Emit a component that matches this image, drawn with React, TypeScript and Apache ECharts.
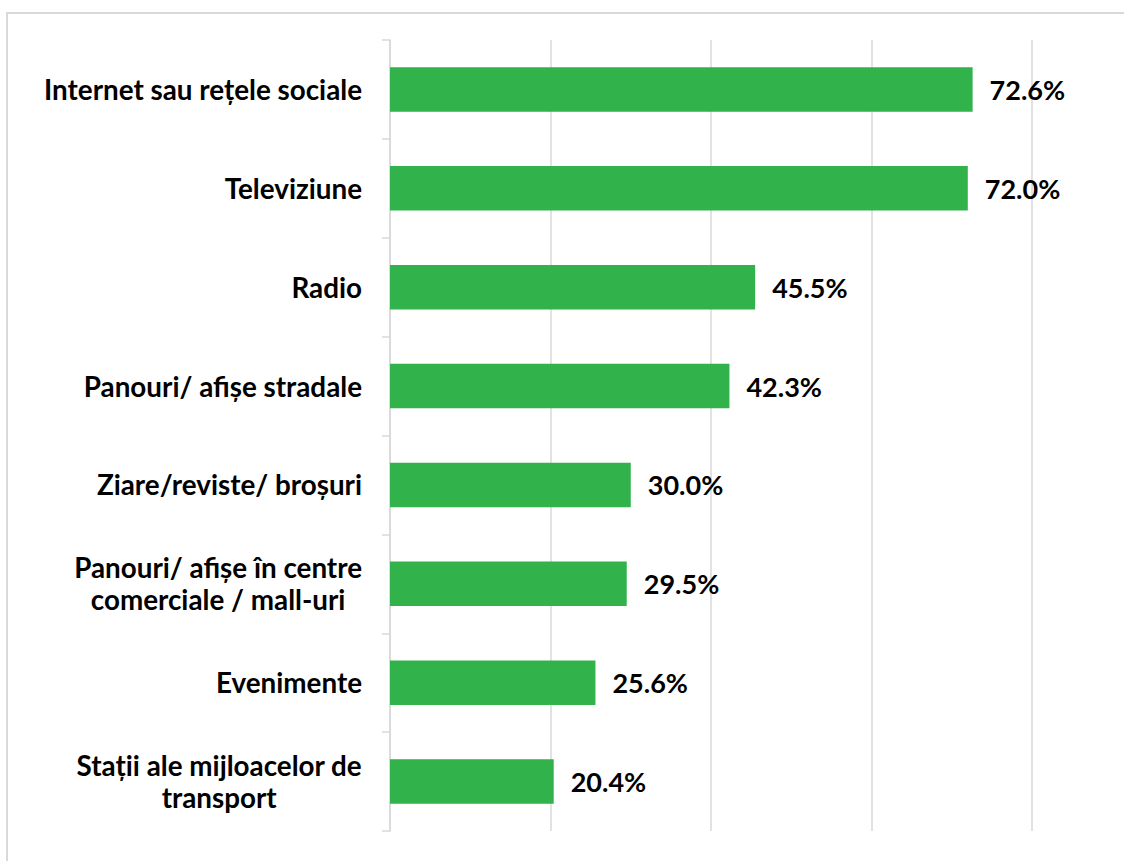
import React, { useEffect, useRef } from "react";
import * as echarts from "echarts";

const categories = [
  "Internet sau rețele sociale",
  "Televiziune",
  "Radio",
  "Panouri/ afișe stradale",
  "Ziare/reviste/ broșuri",
  "Panouri/ afișe în centre\ncomerciale / mall-uri",
  "Evenimente",
  "Stații ale mijloacelor de\ntransport",
];
const values = [72.6, 72.0, 45.5, 42.3, 30.0, 29.5, 25.6, 20.4];

const FONT = "Lato";

export default function App() {
  const ref = useRef<HTMLDivElement>(null);
  useEffect(() => {
    if (!ref.current) return;
    const chart = echarts.init(ref.current, undefined, { renderer: "svg" });
    chart.setOption({
      animation: false,
      backgroundColor: "#ffffff",
      graphic: [
        {
          type: "rect",
          shape: { x: 7, y: 13, width: 1140, height: 880 },
          style: { fill: "none", stroke: "#d9d9d9", lineWidth: 2 },
          silent: true,
          z: -1,
        },
      ],
      grid: { left: 390, top: 40, right: 92, bottom: 30, containLabel: false },
      xAxis: {
        type: "value",
        min: 0,
        max: 80,
        interval: 20,
        axisLabel: { show: false },
        axisLine: { show: false },
        axisTick: { show: false },
        splitLine: { show: true, lineStyle: { color: "#d9d9d9", width: 1.5 } },
      },
      yAxis: {
        type: "category",
        data: categories,
        inverse: true,
        axisLine: { show: true, lineStyle: { color: "#d9d9d9", width: 1.5 } },
        axisTick: { show: true, length: 8, lineStyle: { color: "#d9d9d9", width: 1.5 } },
        axisLabel: {
          margin: 28,
          formatter: (v: string) =>
            v
              .split("\n")
              .map((l) => "{c|" + l + "}")
              .join("\n"),
          rich: {
            c: {
              align: "center",
              fontFamily: FONT,
              fontWeight: "bold",
              fontSize: 27.8,
              color: "#000000",
              lineHeight: 32,
            },
          },
        },
      },
      series: [
        {
          type: "bar",
          data: values,
          barWidth: "45%",
          itemStyle: { color: "#32b24a" },
          label: {
            show: true,
            position: "right",
            distance: 17,
            formatter: (p: any) => p.value.toFixed(1) + "%",
            fontFamily: FONT,
            fontWeight: "bold",
            fontSize: 27,
            color: "#000000",
          },
        },
      ],
    });
    return () => chart.dispose();
  }, []);
  return (
    <div
      ref={ref}
      style={{ position: "absolute", left: 0, top: 0, width: 1124, height: 861 }}
    />
  );
}
